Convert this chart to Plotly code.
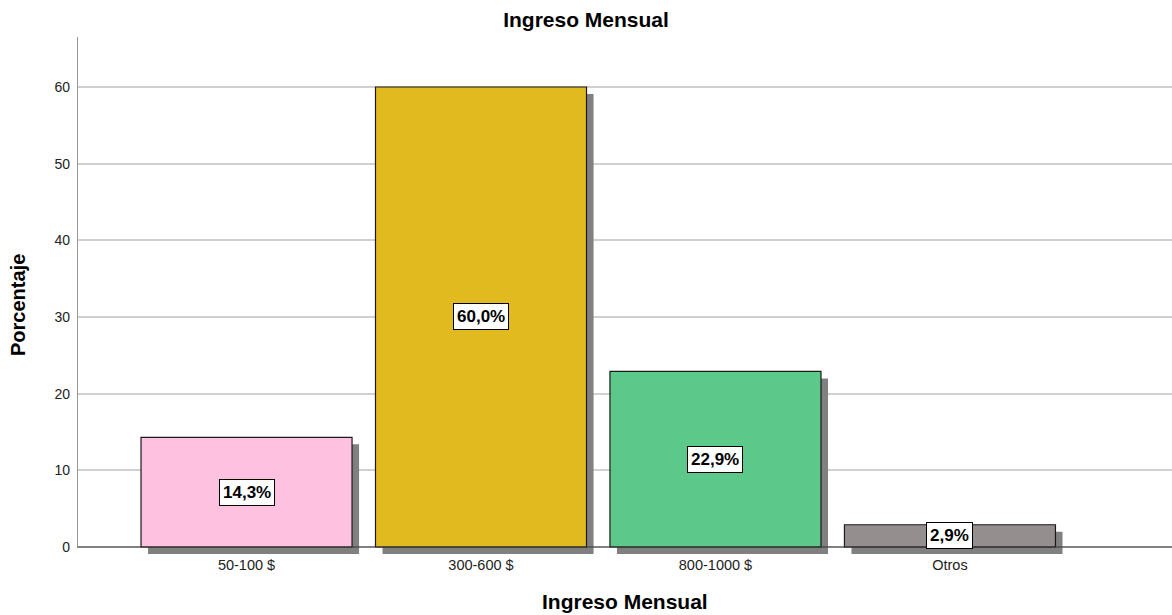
import plotly.graph_objects as go

categories = ["50-100 $", "300-600 $", "800-1000 $", "Otros"]
percent = [14.3, 60.0, 22.9, 2.9]
labels = ["14,3%", "60,0%", "22,9%", "2,9%"]
colors = ["#FEC1E0", "#E1BA1F", "#5CC98A", "#948E8E"]
y_ticks = [0, 10, 20, 30, 40, 50, 60]

xpos = list(range(len(categories)))
shadow_base = -0.913
shadow_dx = 0.03
bar_w = 0.9
FONT = "Liberation Sans, Arial, sans-serif"

fig = go.Figure()
# shadows
fig.add_trace(go.Bar(
    x=xpos, y=percent, base=[shadow_base] * len(percent),
    width=bar_w, offset=-bar_w / 2 + shadow_dx,
    marker=dict(color="#808080", line=dict(width=0)),
    hoverinfo="skip", showlegend=False))
# main bars
fig.add_trace(go.Bar(
    x=xpos, y=percent, width=bar_w, offset=-bar_w / 2,
    marker=dict(color=colors, line=dict(color="#1a1a1a", width=1.2)),
    showlegend=False))

for i, (v, t) in enumerate(zip(percent, labels)):
    fig.add_annotation(x=i, y=v / 2, text="<b>" + t + "</b>", showarrow=False,
                       font=dict(family=FONT, size=17, color="#000"),
                       bgcolor="white", bordercolor="#000", borderwidth=1, borderpad=3)

x0, x1 = -0.723, 3.947
# x axis baseline and y axis line
fig.add_shape(type="line", xref="x", yref="y", x0=x0, x1=x1, y0=0, y1=0,
              line=dict(color="#333", width=1), layer="above")
fig.add_shape(type="line", xref="x", yref="y", x0=x0, x1=x0, y0=0, y1=66.52,
              line=dict(color="#999", width=2), layer="above")

fig.update_layout(
    width=1172, height=615,
    margin=dict(l=77, r=0, t=37, b=61),
    plot_bgcolor="white", paper_bgcolor="white",
    barmode="overlay",
    font=dict(family=FONT, size=14, color="#222"),
    title=dict(text="<b>Ingreso Mensual</b>", x=0.5, xanchor="center", y=0.9675, yanchor="middle",
               font=dict(family=FONT, size=21, color="#000")),
    xaxis=dict(range=[x0, x1], tickvals=xpos, ticktext=categories, showgrid=False,
               zeroline=False, showline=False, ticks="", tickfont=dict(size=14.5, color="#222")),
    yaxis=dict(range=[shadow_base, 66.52], tickvals=y_ticks, showgrid=True, gridcolor="#D0D0D0",
               gridwidth=1.5, zeroline=False, showline=False, ticks="", ticklabelstandoff=6,
               tickfont=dict(size=14, color="#222")),
)
fig.add_annotation(xref="paper", yref="paper", x=0.5, y=-0.0928, yanchor="middle",
                   text="<b>Ingreso Mensual</b>", showarrow=False,
                   font=dict(family=FONT, size=21, color="#000"))
fig.add_annotation(xref="paper", yref="paper", x=-0.0539, y=0.4816, textangle=-90,
                   text="<b>Porcentaje</b>", showarrow=False, xanchor="center", yanchor="middle",
                   font=dict(family=FONT, size=20, color="#000"))

fig.write_html("out.html", config={"displayModeBar": False},
               post_script="document.body.style.margin='0';")
